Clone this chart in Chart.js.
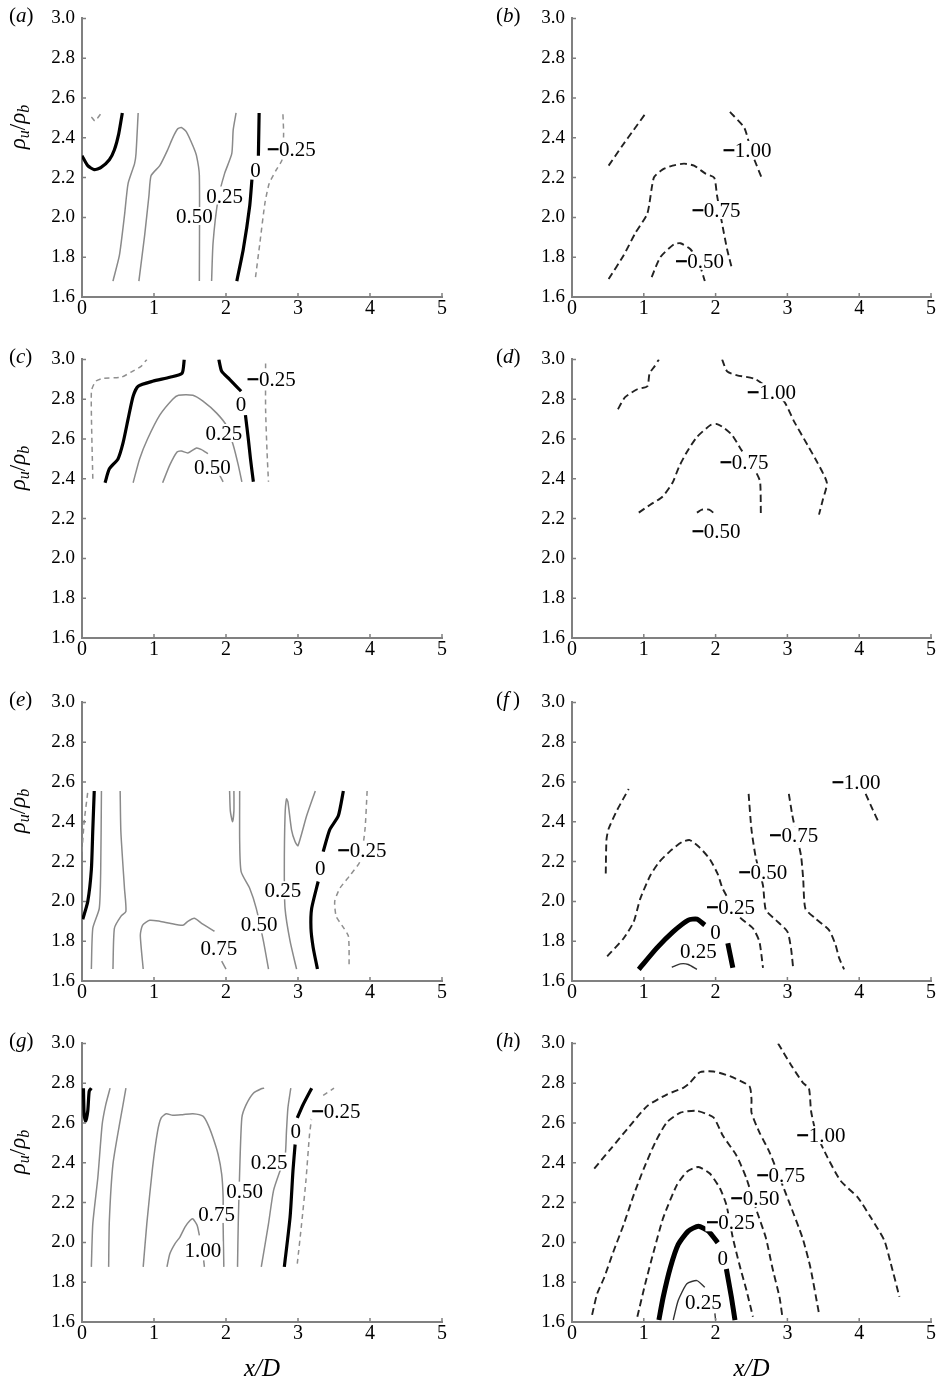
<!DOCTYPE html>
<html>
<head>
<meta charset="utf-8">
<script src="https://cdn.jsdelivr.net/npm/chart.js@4.4.1/dist/chart.umd.min.js"></script>
<style>
html, body { margin:0; padding:0; background:#fff; width:941px; height:1382px; overflow:hidden; position:relative; font-family:"Liberation Serif","Times New Roman",serif; }
.box { position:absolute; }
.tag { position:absolute; font-size:21px; color:#000; line-height:22px; }
.ytitle { position:absolute; width:90px; height:26px; line-height:26px; text-align:center; font-size:23px; color:#000; transform:rotate(-90deg); white-space:nowrap; }
.ytitle sub { font-size:16px; vertical-align:-4px; line-height:0; }
</style>
</head>
<body>

<div class="box" style="left:0;top:0;width:460px;height:326px"><canvas id="pa"></canvas></div>
<div class="box" style="left:490px;top:0;width:451px;height:326px"><canvas id="pb"></canvas></div>
<div class="box" style="left:0;top:341px;width:460px;height:326px"><canvas id="pc"></canvas></div>
<div class="box" style="left:490px;top:341px;width:451px;height:326px"><canvas id="pd"></canvas></div>
<div class="box" style="left:0;top:684px;width:460px;height:326px"><canvas id="pe"></canvas></div>
<div class="box" style="left:490px;top:684px;width:451px;height:326px"><canvas id="pf"></canvas></div>
<div class="box" style="left:0;top:1025px;width:460px;height:357px"><canvas id="pg"></canvas></div>
<div class="box" style="left:490px;top:1025px;width:451px;height:357px"><canvas id="ph"></canvas></div>

<div class="tag" style="left:9px;top:4px">(<i>a</i>)</div>
<div class="tag" style="left:496px;top:4px">(<i>b</i>)</div>
<div class="tag" style="left:9px;top:345px">(<i>c</i>)</div>
<div class="tag" style="left:496px;top:345px">(<i>d</i>)</div>
<div class="tag" style="left:9px;top:688px">(<i>e</i>)</div>
<div class="tag" style="left:496px;top:688px">(<i>f</i>&thinsp;)</div>
<div class="tag" style="left:9px;top:1029px">(<i>g</i>)</div>
<div class="tag" style="left:496px;top:1029px">(<i>h</i>)</div>

<div class="ytitle" style="left:-27px;top:114px"><i>ρ<sub>u</sub></i>/<i>ρ<sub>b</sub></i></div>
<div class="ytitle" style="left:-27px;top:455px"><i>ρ<sub>u</sub></i>/<i>ρ<sub>b</sub></i></div>
<div class="ytitle" style="left:-27px;top:798px"><i>ρ<sub>u</sub></i>/<i>ρ<sub>b</sub></i></div>
<div class="ytitle" style="left:-27px;top:1139px"><i>ρ<sub>u</sub></i>/<i>ρ<sub>b</sub></i></div>

<script>
// axis ticks
const xTickVals = [0, 1, 2, 3, 4, 5];
const yTickVals = [1.6, 1.8, 2.0, 2.2, 2.4, 2.6, 2.8, 3.0];

// ---- panel (a) contours, [x/D, rho_u/rho_b]
const aNeg25a = [[0.13,2.505],[0.18,2.485],[0.26,2.52]];
const aZero1 = [[0,2.31],[0.08,2.26],[0.17,2.24],[0.26,2.25],[0.38,2.29],[0.45,2.34],[0.51,2.42],[0.56,2.525]];
const aPos25a = [[0.43,1.68],[0.52,1.81],[0.59,2.01],[0.64,2.17],[0.73,2.27],[0.75,2.32],[0.78,2.525]];
const aPos50 = [[0.79,1.68],[0.87,1.91],[0.93,2.11],[0.96,2.21],[1.08,2.26],[1.19,2.34],[1.26,2.40],[1.33,2.445],[1.38,2.452],[1.45,2.43],[1.54,2.36],[1.59,2.31],[1.63,2.21],[1.63,1.68]];
const aPos25b = [[1.80,1.68],[1.82,1.87],[1.89,2.09],[1.98,2.22],[2.08,2.32],[2.10,2.44],[2.14,2.525]];
const aZero2 = [[2.15,1.68],[2.24,1.84],[2.33,2.06],[2.36,2.19]];
const aZero3 = [[2.45,2.31],[2.46,2.525]];
const aNeg25b = [[2.41,1.70],[2.47,1.87],[2.54,2.07],[2.60,2.17],[2.70,2.24],[2.78,2.29],[2.80,2.42],[2.79,2.525]];
const aLabText = ['−0.25', '0', '0.25', '0.50'];
const aLabX = [2.91, 2.41, 1.98, 1.56];
const aLabY = [2.342, 2.239, 2.110, 2.007];

// ---- panel (b)
const bNeg100a = [[0.51,2.26],[0.70,2.36],[0.86,2.44],[1.04,2.53]];
const bNeg100b = [[2.20,2.53],[2.40,2.45],[2.49,2.34],[2.54,2.29],[2.64,2.20]];
const bNeg75 = [[0.51,1.69],[0.72,1.81],[0.88,1.92],[1.05,2.02],[1.14,2.20],[1.26,2.24],[1.40,2.26],[1.56,2.27],[1.70,2.26],[1.86,2.22],[1.98,2.20],[2.02,2.11],[2.09,1.97],[2.16,1.84],[2.23,1.74]];
const bNeg50 = [[1.11,1.70],[1.23,1.80],[1.42,1.865],[1.51,1.87],[1.65,1.84],[1.77,1.77],[1.85,1.68]];
const bLabText = ['−1.00', '−0.75', '−0.50'];
const bLabX = [2.44, 2.01, 1.78];
const bLabY = [2.339, 2.037, 1.782];

// ---- panel (c)
const cNeg25a = [[0.15,2.40],[0.13,2.84],[0.19,2.89],[0.29,2.905],[0.54,2.91],[0.70,2.94],[0.82,2.965],[0.90,3.0]];
const cZero1 = [[0.32,2.38],[0.38,2.45],[0.50,2.50],[0.57,2.58],[0.64,2.70],[0.71,2.815],[0.78,2.865],[0.98,2.89],[1.22,2.91],[1.39,2.93],[1.42,3.0]];
const cZero2 = [[1.90,3.0],[1.94,2.94],[2.05,2.90],[2.21,2.84]];
const cZero3 = [[2.27,2.72],[2.31,2.60],[2.34,2.50],[2.38,2.385]];
const cPos25 = [[0.71,2.38],[0.80,2.50],[0.91,2.60],[1.08,2.72],[1.26,2.80],[1.34,2.82],[1.54,2.82],[1.68,2.79],[1.87,2.73],[2.01,2.665],[2.10,2.57],[2.17,2.47],[2.22,2.385]];
const cPos50a = [[1.12,2.38],[1.22,2.47],[1.32,2.535],[1.38,2.54],[1.47,2.53],[1.59,2.555],[1.66,2.547],[1.75,2.526]];
const cPos50b = [[1.91,2.42],[1.96,2.385]];
const cNeg25b = [[2.55,2.98],[2.55,2.75],[2.57,2.535],[2.59,2.385]];
const cLabText = ['−0.25', '0', '0.25', '0.50'];
const cLabX = [2.63, 2.21, 1.97, 1.81];
const cLabY = [2.90, 2.774, 2.63, 2.46];

// ---- panel (d)
const dNeg100a = [[0.64,2.75],[0.74,2.81],[0.91,2.85],[1.05,2.865],[1.08,2.93],[1.15,2.965],[1.21,3.0]];
const dNeg100b = [[2.09,3.0],[2.16,2.94],[2.30,2.92],[2.56,2.90],[2.95,2.79],[3.09,2.69],[3.28,2.57],[3.42,2.48],[3.55,2.38],[3.49,2.29],[3.44,2.22]];
const dNeg75 = [[0.93,2.23],[1.09,2.27],[1.26,2.31],[1.40,2.38],[1.49,2.46],[1.60,2.535],[1.74,2.61],[1.93,2.67],[2.02,2.675],[2.12,2.655],[2.23,2.62],[2.35,2.55],[2.56,2.435],[2.62,2.385],[2.63,2.22]];
const dNeg50 = [[1.74,2.23],[1.81,2.245],[1.91,2.245],[2.00,2.22]];
const dLabText = ['−1.00', '−0.75', '−0.50'];
const dLabX = [2.78, 2.40, 2.01];
const dLabY = [2.835, 2.484, 2.14];

// ---- panel (e)
const eNeg25a = [[0,2.25],[0.03,2.40],[0.08,2.55]];
const eZero1 = [[0.01,1.91],[0.08,2.00],[0.13,2.16],[0.15,2.36],[0.17,2.555]];
const ePos25a = [[0.13,1.66],[0.15,1.865],[0.24,1.965],[0.26,2.16],[0.27,2.555]];
const ePos50a = [[0.43,1.66],[0.45,1.865],[0.54,1.925],[0.61,1.95],[0.59,2.065],[0.54,2.35],[0.53,2.555]];
const ePos75a = [[0.85,1.66],[0.81,1.83],[0.84,1.88],[0.94,1.905],[1.08,1.90],[1.22,1.89],[1.40,1.88],[1.47,1.90],[1.56,1.915],[1.66,1.89],[1.84,1.85]];
const ePos75b = [[1.94,1.70],[2.00,1.66]];
const ePos75c = [[2.05,2.555],[2.06,2.455],[2.09,2.40],[2.11,2.455],[2.11,2.555]];
const ePos50b = [[2.19,2.555],[2.19,2.30],[2.21,2.15],[2.33,2.065],[2.42,1.965],[2.52,1.80],[2.59,1.66]];
const ePos25b = [[3.24,2.555],[3.12,2.43],[3.00,2.28],[2.96,2.30],[2.91,2.36],[2.86,2.50],[2.84,2.515],[2.82,2.43],[2.81,2.16],[2.82,1.965],[2.89,1.80],[2.98,1.66]];
const eZero2 = [[3.63,2.555],[3.56,2.43],[3.44,2.36],[3.35,2.25]];
const eZero3 = [[3.28,2.10],[3.19,1.965],[3.18,1.865],[3.21,1.77],[3.27,1.66]];
const eNeg25b = [[3.96,2.555],[3.93,2.36],[3.86,2.20],[3.72,2.13],[3.58,2.065],[3.51,2.00],[3.53,1.925],[3.61,1.88],[3.70,1.825],[3.71,1.665]];
const eLabText = ['−0.25', '0', '0.25', '0.50', '0.75'];
const eLabX = [3.89, 3.31, 2.79, 2.46, 1.90];
const eLabY = [2.256, 2.168, 2.056, 1.885, 1.766];

// ---- panel (f)
const fNeg50a = [[0.47,2.14],[0.48,2.31],[0.51,2.365],[0.63,2.46],[0.79,2.565]];
const fNeg25 = [[0.49,1.724],[0.72,1.815],[0.86,1.898],[0.95,2.013],[1.09,2.13],[1.21,2.196],[1.37,2.254],[1.53,2.298],[1.64,2.308],[1.78,2.27],[1.92,2.212],[2.03,2.137],[2.10,2.063],[2.33,1.923],[2.52,1.865],[2.61,1.798],[2.66,1.666]];
const fNeg50b = [[2.46,2.54],[2.50,2.36],[2.56,2.22],[2.66,2.08],[2.70,1.956],[2.84,1.906],[3.00,1.848],[3.05,1.765],[3.08,1.666]];
const fNeg75 = [[3.02,2.54],[3.07,2.43],[3.12,2.345],[3.19,2.229],[3.22,2.113],[3.25,1.964],[3.39,1.914],[3.58,1.856],[3.67,1.782],[3.72,1.716],[3.79,1.658]];
const fNeg100 = [[4.09,2.54],[4.19,2.46],[4.28,2.39]];
const fZero1 = [[0.93,1.658],[1.18,1.765],[1.41,1.848],[1.62,1.906],[1.74,1.911],[1.85,1.881]];
const fZero2 = [[2.17,1.79],[2.24,1.666]];
const fPos25 = [[1.39,1.669],[1.51,1.686],[1.62,1.683],[1.74,1.658]];
const fLabText = ['−1.00', '−0.75', '−0.50', '−0.25', '0', '0.25'];
const fLabX = [3.96, 3.09, 2.66, 2.21, 2.00, 1.76];
const fLabY = [2.60, 2.333, 2.146, 1.972, 1.848, 1.749];

// ---- panel (g)
const gZero1 = [[0.02,2.775],[0.03,2.64],[0.05,2.61],[0.08,2.66],[0.10,2.76],[0.13,2.775]];
const gPos25a = [[0.13,1.877],[0.15,2.093],[0.22,2.326],[0.28,2.592],[0.33,2.692],[0.39,2.775]];
const gPos50a = [[0.37,1.877],[0.38,2.11],[0.43,2.393],[0.52,2.592],[0.57,2.692],[0.61,2.775]];
const gPos75 = [[0.85,1.877],[0.90,2.093],[0.98,2.376],[1.05,2.559],[1.10,2.626],[1.17,2.646],[1.26,2.639],[1.40,2.642],[1.54,2.646],[1.68,2.634],[1.75,2.592],[1.82,2.526],[1.89,2.443],[1.94,2.343],[1.96,2.226],[1.96,2.093],[1.97,1.877]];
const gPos100a = [[1.18,1.877],[1.22,1.943],[1.29,1.993],[1.36,2.027],[1.43,2.077],[1.50,2.11],[1.54,2.118],[1.60,2.085],[1.63,2.035]];
const gPos100b = [[1.69,1.91],[1.70,1.877]];
const gPos50b = [[2.16,1.877],[2.17,2.093],[2.19,2.359],[2.22,2.626],[2.28,2.692],[2.38,2.75],[2.49,2.772],[2.53,2.775]];
const gPos25b = [[2.49,1.877],[2.59,2.093],[2.66,2.26],[2.75,2.359],[2.82,2.426],[2.84,2.559],[2.86,2.676],[2.90,2.775]];
const gZero2 = [[2.81,1.877],[2.89,2.127],[2.93,2.359],[2.96,2.492]];
const gZero3 = [[2.99,2.626],[3.07,2.692],[3.19,2.775]];
const gNeg25a = [[2.99,1.893],[3.05,2.093],[3.11,2.31],[3.16,2.542],[3.19,2.626]];
const gNeg25b = [[3.35,2.739],[3.50,2.775]];
const gLabText = ['−0.25', '0', '0.25', '0.50', '0.75', '1.00'];
const gLabX = [3.53, 2.97, 2.60, 2.26, 1.87, 1.68];
const gLabY = [2.662, 2.559, 2.406, 2.26, 2.143, 1.96];

// ---- panel (h)
const hNeg100 = [[2.87,3.0],[3.05,2.892],[3.22,2.80],[3.30,2.775],[3.33,2.659],[3.40,2.55],[3.56,2.426],[3.74,2.31],[3.98,2.226],[4.16,2.126],[4.35,2.01],[4.44,1.894],[4.56,1.727]];
const hNeg75 = [[0.31,2.371],[0.54,2.47],[0.77,2.57],[1.05,2.686],[1.32,2.743],[1.55,2.777],[1.64,2.801],[1.78,2.855],[1.97,2.859],[2.20,2.835],[2.47,2.785],[2.50,2.718],[2.50,2.652],[2.61,2.553],[2.75,2.454],[3.02,2.206],[3.21,2.023],[3.32,1.874],[3.44,1.643]];
const hNeg50 = [[0.28,1.636],[0.35,1.742],[0.45,1.825],[0.58,1.957],[0.72,2.09],[0.86,2.239],[1.00,2.371],[1.16,2.503],[1.32,2.603],[1.51,2.652],[1.74,2.661],[1.97,2.628],[2.10,2.537],[2.29,2.437],[2.43,2.321],[2.56,2.172],[2.70,2.023],[2.79,1.874],[2.89,1.725],[2.93,1.626]];
const hNeg25 = [[0.91,1.626],[1.02,1.792],[1.14,1.957],[1.27,2.123],[1.46,2.288],[1.60,2.355],[1.76,2.379],[1.92,2.346],[2.06,2.272],[2.15,2.189],[2.24,2.023],[2.33,1.891],[2.43,1.759],[2.52,1.626]];
const hZero1 = [[1.21,1.61],[1.27,1.725],[1.37,1.874],[1.48,1.99],[1.62,2.057],[1.76,2.081],[1.90,2.057],[2.03,1.998]];
const hZero2 = [[2.15,1.866],[2.22,1.725],[2.27,1.61]];
const hPos25a = [[1.41,1.61],[1.48,1.709],[1.60,1.792],[1.74,1.808],[1.85,1.775]];
const hPos25b = [[1.99,1.643],[2.00,1.61]];
const hLabText = ['−1.00', '−0.75', '−0.50', '−0.25', '0', '0.25'];
const hLabX = [3.47, 2.91, 2.55, 2.21, 2.10, 1.83];
const hLabY = [2.539, 2.341, 2.222, 2.101, 1.924, 1.701];

// line looks
const looks = {
  zero:  { color: '#000', width: 3.2, dash: [] },
  zeroB: { color: '#000', width: 5, dash: [] },
  pos:   { color: '#8a8a8a', width: 1.5, dash: [] },
  posD:  { color: '#333', width: 1.4, dash: [] },
  neg:   { color: '#8f8f8f', width: 1.5, dash: [5, 4] },
  negD:  { color: '#222', width: 1.9, dash: [7, 4] }
};

const FONT = '"Liberation Serif", "Times New Roman", serif';

// inward tick marks + contour labels
const decor = {
  id: 'decor',
  afterDatasetsDraw(chart, args, opts) {
    const { ctx } = chart;
    const x = chart.scales.x, y = chart.scales.y;
    ctx.save();
    ctx.font = '21px ' + FONT;
    ctx.textBaseline = 'alphabetic';
    ctx.textAlign = 'left';
    opts.text.forEach((t, i) => {
      const px = x.getPixelForValue(opts.xs[i]);
      const py = y.getPixelForValue(opts.ys[i]);
      const w = ctx.measureText(t).width;
      const x0 = px - w / 2;
      ctx.fillStyle = '#fff';
      ctx.fillRect(x0 - 1, py - 9, w + 2, 18);
      ctx.fillStyle = '#000';
      ctx.fillText(t, x0, py + 7);
      if (t.startsWith('−')) {
        // heavier minus, as in the printed figure
        ctx.strokeStyle = '#000';
        ctx.lineWidth = 1.1;
        ctx.strokeText('−', x0, py + 7);
      }
    });
    ctx.restore();
  },
  afterDraw(chart) {
    const { ctx, chartArea } = chart;
    const x = chart.scales.x, y = chart.scales.y;
    ctx.save();
    ctx.strokeStyle = '#808080';
    ctx.lineWidth = 1.5;
    ctx.beginPath();
    xTickVals.forEach(v => {
      const px = x.getPixelForValue(v);
      ctx.moveTo(px, chartArea.bottom);
      ctx.lineTo(px, chartArea.bottom - 4);
    });
    yTickVals.forEach(v => {
      const py = y.getPixelForValue(v);
      ctx.moveTo(chartArea.left, py);
      ctx.lineTo(chartArea.left + 4, py);
    });
    ctx.stroke();
    ctx.restore();
  }
};

function makePanel(id, lines, labText, labX, labY, bottomRow) {
  const datasets = lines.map(([pts, kind]) => {
    const lk = looks[kind];
    return {
      data: pts.map(p => ({ x: p[0], y: p[1] })),
      showLine: true,
      borderColor: lk.color,
      borderWidth: lk.width,
      borderDash: lk.dash,
      borderCapStyle: 'butt',
      borderJoinStyle: 'round',
      pointRadius: 0,
      tension: 0.2,
      fill: false
    };
  });
  const xHeight = bottomRow ? 60 : 29;
  new Chart(document.getElementById(id), {
    type: 'scatter',
    data: { datasets },
    options: {
      responsive: true,
      maintainAspectRatio: false,
      animation: false,
      events: [],
      layout: { padding: { top: 15, left: 0, right: id.match(/[aceg]$/) ? 18 : 10, bottom: 0 } },
      plugins: {
        legend: { display: false },
        tooltip: { enabled: false },
        decor: { text: labText, xs: labX, ys: labY }
      },
      scales: {
        x: {
          type: 'linear', min: 0, max: 5,
          afterBuildTicks: s => { s.ticks = xTickVals.map(v => ({ value: v })); },
          afterFit: s => { s.height = xHeight; },
          grid: { display: false, drawTicks: false },
          border: { display: true, color: '#808080', width: 2 },
          ticks: { color: '#000', padding: 0, maxRotation: 0, autoSkip: false, font: { family: FONT, size: 20 }, callback: v => String(v) },
          title: bottomRow ? { display: true, text: 'x/D', color: '#000', padding: 0, font: { family: FONT, size: 25, style: 'italic', lineHeight: 1 } } : { display: false }
        },
        y: {
          type: 'linear', min: 1.6, max: 3.0,
          afterBuildTicks: s => { s.ticks = yTickVals.map(v => ({ value: v })); },
          afterFit: s => { s.width = 82; },
          grid: { display: false, drawTicks: false },
          border: { display: true, color: '#808080', width: 2 },
          ticks: { color: '#000', padding: 7, autoSkip: false, font: { family: FONT, size: 19 }, callback: v => Number(v).toFixed(1) }
        }
      }
    },
    plugins: [decor]
  });
}

makePanel('pa', [[aNeg25a,'neg'],[aZero1,'zero'],[aPos25a,'pos'],[aPos50,'pos'],[aPos25b,'pos'],[aZero2,'zero'],[aZero3,'zero'],[aNeg25b,'neg']], aLabText, aLabX, aLabY, false);
makePanel('pb', [[bNeg100a,'negD'],[bNeg100b,'negD'],[bNeg75,'negD'],[bNeg50,'negD']], bLabText, bLabX, bLabY, false);
makePanel('pc', [[cNeg25a,'neg'],[cZero1,'zero'],[cZero2,'zero'],[cZero3,'zero'],[cPos25,'pos'],[cPos50a,'pos'],[cPos50b,'pos'],[cNeg25b,'neg']], cLabText, cLabX, cLabY, false);
makePanel('pd', [[dNeg100a,'negD'],[dNeg100b,'negD'],[dNeg75,'negD'],[dNeg50,'negD']], dLabText, dLabX, dLabY, false);
makePanel('pe', [[eNeg25a,'neg'],[eZero1,'zero'],[ePos25a,'pos'],[ePos50a,'pos'],[ePos75a,'pos'],[ePos75b,'pos'],[ePos75c,'pos'],[ePos50b,'pos'],[ePos25b,'pos'],[eZero2,'zero'],[eZero3,'zero'],[eNeg25b,'neg']], eLabText, eLabX, eLabY, false);
makePanel('pf', [[fNeg50a,'negD'],[fNeg25,'negD'],[fNeg50b,'negD'],[fNeg75,'negD'],[fNeg100,'negD'],[fZero1,'zeroB'],[fZero2,'zeroB'],[fPos25,'posD']], fLabText, fLabX, fLabY, false);
makePanel('pg', [[gZero1,'zero'],[gPos25a,'pos'],[gPos50a,'pos'],[gPos75,'pos'],[gPos100a,'pos'],[gPos100b,'pos'],[gPos50b,'pos'],[gPos25b,'pos'],[gZero2,'zero'],[gZero3,'zero'],[gNeg25a,'neg'],[gNeg25b,'neg']], gLabText, gLabX, gLabY, true);
makePanel('ph', [[hNeg100,'negD'],[hNeg75,'negD'],[hNeg50,'negD'],[hNeg25,'negD'],[hZero1,'zeroB'],[hZero2,'zeroB'],[hPos25a,'posD'],[hPos25b,'posD']], hLabText, hLabX, hLabY, true);
</script>
</body>
</html>
